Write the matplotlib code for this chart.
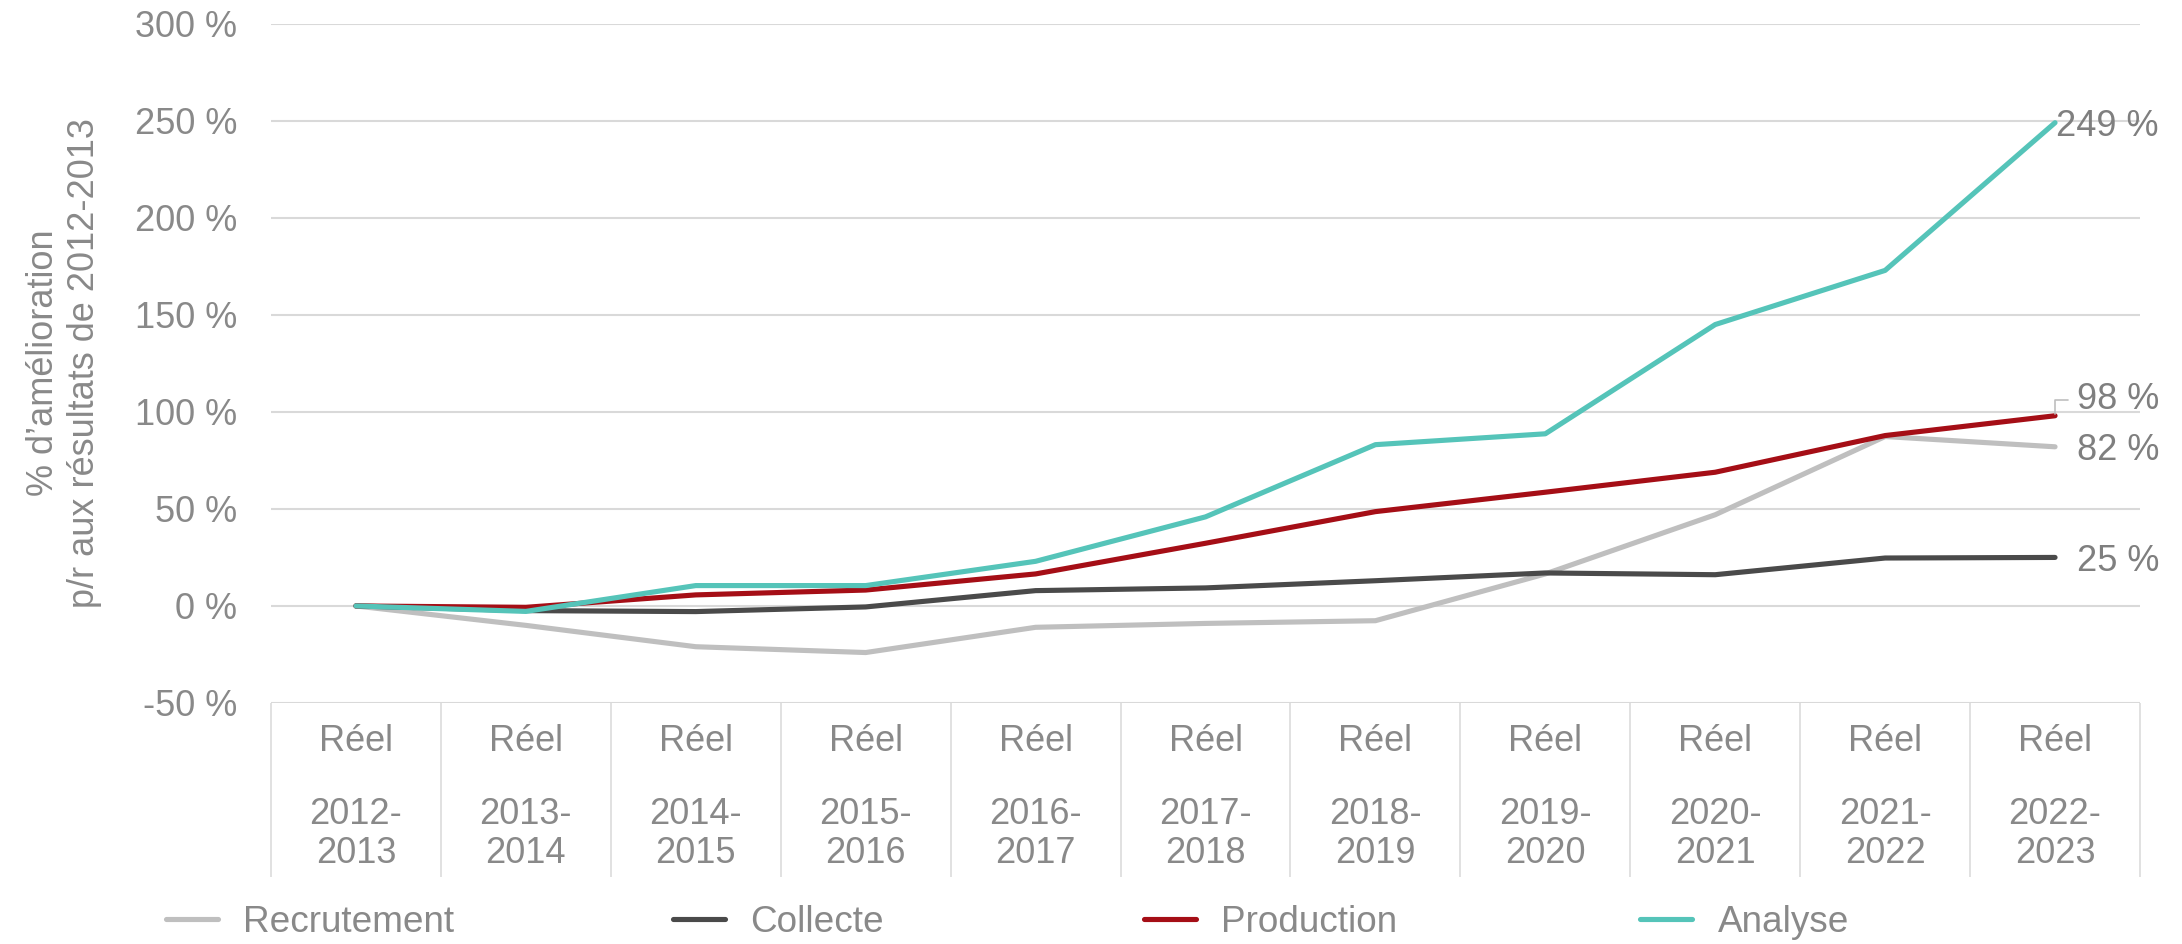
import matplotlib
matplotlib.use("Agg")
import matplotlib.pyplot as plt
from matplotlib.lines import Line2D
import matplotlib.transforms as mtransforms

# ---------------- data ----------------
periods = ["2012-\n2013", "2013-\n2014", "2014-\n2015", "2015-\n2016", "2016-\n2017",
           "2017-\n2018", "2018-\n2019", "2019-\n2020", "2020-\n2021", "2021-\n2022",
           "2022-\n2023"]
row_label = "Réel"
recrutement = [0, -10, -21, -24, -11, -9, -7.6, 16.5, 47, 87.3, 82]
collecte = [0, -2.4, -2.9, -0.5, 7.9, 9.3, 13, 17, 16.1, 24.7, 25]
production = [0, -0.7, 5.7, 8.2, 16.5, 32.3, 48.6, 58.6, 68.9, 87.8, 98]
analyse = [0, -2.8, 10.5, 10.5, 23, 45.9, 83.1, 88.7, 145, 172.9, 249]
series_names = ["Recrutement", "Collecte", "Production", "Analyse"]
series_values = [recrutement, collecte, production, analyse]
series_colors = ["#BFBFBF", "#4A4A4A", "#A50E16", "#55C4B9"]
end_labels = ["82 %", "25 %", "98 %", "249 %"]
yticks = [-50, 0, 50, 100, 150, 200, 250, 300]
ylabel = "% d’amélioration\np/r aux résultats de 2012-2013"

# ---------------- style ----------------
plt.rcParams["font.family"] = ["Liberation Sans", "DejaVu Sans"]
TXT = "#898989"
LBL = "#7F7F7F"
GRID = "#D9D9D9"
FS = 26
W, H = 2182, 944

fig = plt.figure(figsize=(W / 100, H / 100), dpi=100)
ax = fig.add_axes([271 / W, 1 - 703 / H, (2140 - 271) / W, (703 - 23.7) / H])

x = list(range(len(periods)))
for name, vals, col in zip(series_names, series_values, series_colors):
    ax.plot(x, vals, color=col, lw=3.7, solid_capstyle="round",
            solid_joinstyle="round", zorder=3)

ax.set_xlim(-0.5, len(periods) - 0.5)
ax.set_ylim(-50, 300)
ax.set_yticks(yticks)
ax.set_yticklabels([f"{v} %" for v in yticks])
ax.tick_params(axis="y", length=0, pad=24.5, labelsize=FS, labelcolor=TXT)
ax.grid(axis="y", color=GRID, lw=1.5)
ax.set_axisbelow(True)
for s in ax.spines.values():
    s.set_visible(False)

# category table below the axis
ax.set_xticks(x)
ax.tick_params(axis="x", which="major", length=0, labelbottom=False)
ax.set_xticks([i - 0.5 for i in range(len(periods) + 1)], minor=True)
ax.tick_params(axis="x", which="minor", direction="out", length=125.6,
               width=1.1, color=GRID)

trans = mtransforms.blended_transform_factory(ax.transData, ax.transAxes)
for i, p in enumerate(periods):
    ax.text(i, (703 - 741.7) / 679.3, row_label, transform=trans, ha="center",
            va="center", fontsize=FS, color=TXT)
    ax.text(i, (703 - 834) / 679.3, p, transform=trans, ha="center",
            va="center", fontsize=FS, color=TXT, linespacing=1.12)

# end labels
last = len(periods) - 1
offsets = {"Recrutement": (15.8, 0), "Collecte": (15.8, 0),
           "Production": (15.8, 14.5), "Analyse": (0.7, 0)}
for name, vals, lab in zip(series_names, series_values, end_labels):
    dx, dy = offsets[name]
    kw = {}
    if name == "Production":
        kw["arrowprops"] = dict(arrowstyle="-", color="#BFBFBF", lw=1.2,
                                connectionstyle="angle,angleA=0,angleB=90,rad=0",
                                relpos=(0, 0.5), patchA=None, shrinkA=6.5,
                                shrinkB=1)
    ax.annotate(lab, xy=(last, vals[last]), xytext=(dx, dy),
                textcoords="offset points", ha="left", va="center_baseline",
                fontsize=FS, color=LBL, zorder=4, **kw)

# y label
fig.text(64 / W, 1 - 363 / H, ylabel, rotation=90, ha="center", va="center",
         multialignment="center", fontsize=FS, color=TXT, linespacing=1.2)

# legend
leg_x = [165.5, 673, 1143.5, 1640]
for name, col, lx in zip(series_names, series_colors, leg_x):
    h = Line2D([], [], color=col, lw=3.7, solid_capstyle="round")
    fig.legend(handles=[h], labels=[name], loc="center left",
               bbox_to_anchor=(lx / W, 1 - 922.5 / H), frameon=False,
               fontsize=26.6, labelcolor=TXT, handlelength=1.42,
               handletextpad=0.68, borderpad=0, borderaxespad=0)

fig.savefig("out.png", dpi=100)
